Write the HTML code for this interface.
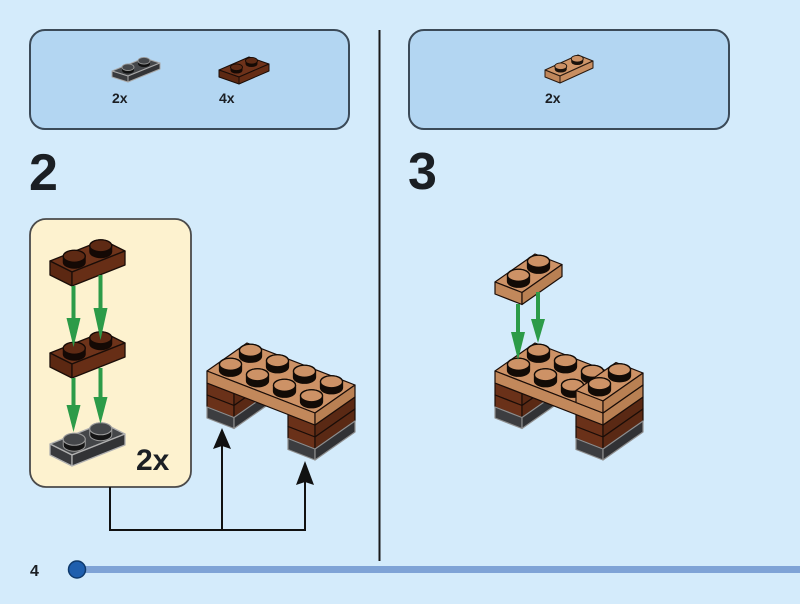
<!DOCTYPE html>
<html><head><meta charset="utf-8"><style>
html,body{margin:0;padding:0;background:#d4ebfb;}
svg{display:block;}
text{font-family:"Liberation Sans",sans-serif;font-weight:bold;fill:#1b1f24;}
</style></head><body>
<svg width="800" height="604" viewBox="0 0 800 604" xmlns="http://www.w3.org/2000/svg">
<rect width="800" height="604" fill="#d4ebfb"/>

<!-- top panels -->
<rect x="30" y="30" width="319" height="99" rx="15" fill="#b3d6f2" stroke="#3b4a58" stroke-width="2"/>
<rect x="409" y="30" width="320" height="99" rx="15" fill="#b3d6f2" stroke="#3b4a58" stroke-width="2"/>

<!-- divider -->
<line x1="379.5" y1="30" x2="379.5" y2="561" stroke="#1a1a1a" stroke-width="2"/>

<!-- step numbers -->
<text x="29" y="190" font-size="52">2</text>
<text x="408" y="189" font-size="52">3</text>

<!-- panel icons -->
<g stroke-linejoin="round">
  <!-- gray icon -->
  <polygon points="112,71 128,76 160,63 144,58" fill="#45474a" stroke="#a8a8a8" stroke-width="1"/>
  <polygon points="112,71 128,76 128,82 112,77" fill="#3a3b3e" stroke="#a8a8a8" stroke-width="1"/>
  <polygon points="128,76 160,63 160,69 128,82" fill="#333437" stroke="#a8a8a8" stroke-width="1"/>
  <path d="M138,63.75 A6,3.3 0 0 0 150,63.75 V60.75 A6,3.3 0 0 0 138,60.75 Z" fill="#111"/>
  <ellipse cx="144" cy="60.75" rx="6" ry="3.3" fill="#45474a" stroke="#999" stroke-width="0.9"/>
  <path d="M122,70.25 A6,3.3 0 0 0 134,70.25 V67.25 A6,3.3 0 0 0 122,67.25 Z" fill="#111"/>
  <ellipse cx="128" cy="67.25" rx="6" ry="3.3" fill="#45474a" stroke="#999" stroke-width="0.9"/>
  <!-- brown icon -->
  <polygon points="219,70 239,77 269,64 249,57" fill="#6e321a" stroke="#1a0d08" stroke-width="1"/>
  <polygon points="219,70 239,77 239,84 219,77" fill="#5c2812" stroke="#1a0d08" stroke-width="1"/>
  <polygon points="239,77 269,64 269,71 239,84" fill="#662d15" stroke="#1a0d08" stroke-width="1"/>
  <path d="M245.5,63.75 A6,3.3 0 0 0 257.5,63.75 V60.75 A6,3.3 0 0 0 245.5,60.75 Z" fill="#150a05"/>
  <ellipse cx="251.5" cy="60.75" rx="6" ry="3.3" fill="#5e2a14" stroke="#150a05" stroke-width="0.9"/>
  <path d="M230.5,70.25 A6,3.3 0 0 0 242.5,70.25 V67.25 A6,3.3 0 0 0 230.5,67.25 Z" fill="#150a05"/>
  <ellipse cx="236.5" cy="67.25" rx="6" ry="3.3" fill="#5e2a14" stroke="#150a05" stroke-width="0.9"/>
  <!-- tan icon -->
  <polygon points="545,70 560,76 593,61 578,55" fill="#d09669" stroke="#2a1a10" stroke-width="1"/>
  <polygon points="545,70 560,76 560,83 545,77" fill="#c0875b" stroke="#2a1a10" stroke-width="1"/>
  <polygon points="560,76 593,61 593,68 560,83" fill="#c88e61" stroke="#2a1a10" stroke-width="1"/>
  <path d="M571.25,61.75 A6,3.3 0 0 0 583.25,61.75 V58.75 A6,3.3 0 0 0 571.25,58.75 Z" fill="#1a120c"/>
  <ellipse cx="577.25" cy="58.75" rx="6" ry="3.3" fill="#cc9165" stroke="#1a120c" stroke-width="0.9"/>
  <path d="M554.75,69.25 A6,3.3 0 0 0 566.75,69.25 V66.25 A6,3.3 0 0 0 554.75,66.25 Z" fill="#1a120c"/>
  <ellipse cx="560.75" cy="66.25" rx="6" ry="3.3" fill="#cc9165" stroke="#1a120c" stroke-width="0.9"/>
</g>
<text x="112" y="103" font-size="14">2x</text>
<text x="219" y="103" font-size="14">4x</text>
<text x="545" y="103" font-size="14">2x</text>

<!-- callout -->
<rect x="30" y="219" width="161" height="268" rx="16" fill="#fdf2cf" stroke="#4a4a4a" stroke-width="1.8"/>

<g stroke-linejoin="round">
  <!-- top brown plate -->
  <polygon points="50,261 72,272 125,251 103,240" fill="#6e331a" stroke="#1a0d08" stroke-width="1.3"/>
  <polygon points="50,261 72,272 72,286 50,275" fill="#5c2812" stroke="#1a0d08" stroke-width="1.3"/>
  <polygon points="72,272 125,251 125,265 72,286" fill="#672e16" stroke="#1a0d08" stroke-width="1.3"/>
  <path d="M89.75,251.75 A11,6 0 0 0 111.75,251.75 V245.75 A11,6 0 0 0 89.75,245.75 Z" fill="#140905" stroke="#140905"/>
  <ellipse cx="100.75" cy="245.75" rx="11" ry="6" fill="#5e2a14" stroke="#140905" stroke-width="1.3"/>
  <path d="M63.25,262.25 A11,6 0 0 0 85.25,262.25 V256.25 A11,6 0 0 0 63.25,256.25 Z" fill="#140905" stroke="#140905"/>
  <ellipse cx="74.25" cy="256.25" rx="11" ry="6" fill="#5e2a14" stroke="#140905" stroke-width="1.3"/>

  <!-- middle brown plate -->
  <polygon points="50,353 72,364 125,343 103,332" fill="#6e331a" stroke="#1a0d08" stroke-width="1.3"/>
  <polygon points="50,353 72,364 72,378 50,367" fill="#5c2812" stroke="#1a0d08" stroke-width="1.3"/>
  <polygon points="72,364 125,343 125,357 72,378" fill="#672e16" stroke="#1a0d08" stroke-width="1.3"/>
  <path d="M89.75,343.75 A11,6 0 0 0 111.75,343.75 V337.75 A11,6 0 0 0 89.75,337.75 Z" fill="#140905" stroke="#140905"/>
  <ellipse cx="100.75" cy="337.75" rx="11" ry="6" fill="#5e2a14" stroke="#140905" stroke-width="1.3"/>
  <path d="M63.25,354.25 A11,6 0 0 0 85.25,354.25 V348.25 A11,6 0 0 0 63.25,348.25 Z" fill="#140905" stroke="#140905"/>
  <ellipse cx="74.25" cy="348.25" rx="11" ry="6" fill="#5e2a14" stroke="#140905" stroke-width="1.3"/>

  <!-- gray plate -->
  <polygon points="50,444 72,455 125,434 103,423" fill="#444649" stroke="#b0b0b0" stroke-width="1.3"/>
  <polygon points="50,444 72,455 72,466 50,455" fill="#393a3d" stroke="#b0b0b0" stroke-width="1.3"/>
  <polygon points="72,455 125,434 125,445 72,466" fill="#323336" stroke="#b0b0b0" stroke-width="1.3"/>
  <path d="M89.75,434.75 A11,6 0 0 0 111.75,434.75 V428.75 A11,6 0 0 0 89.75,428.75 Z" fill="#151515" stroke="#9a9a9a" stroke-width="1"/>
  <ellipse cx="100.75" cy="428.75" rx="11" ry="6" fill="#444649" stroke="#9a9a9a" stroke-width="1.1"/>
  <path d="M63.25,445.25 A11,6 0 0 0 85.25,445.25 V439.25 A11,6 0 0 0 63.25,439.25 Z" fill="#151515" stroke="#9a9a9a" stroke-width="1"/>
  <ellipse cx="74.25" cy="439.25" rx="11" ry="6" fill="#444649" stroke="#9a9a9a" stroke-width="1.1"/>
</g>

<!-- green arrows callout -->
<g stroke="#2c9b48" stroke-width="4" fill="none">
  <line x1="73.5" y1="286" x2="73.5" y2="322"/>
  <line x1="100.5" y1="275" x2="100.5" y2="312"/>
  <line x1="73.5" y1="378" x2="73.5" y2="410"/>
  <line x1="100.5" y1="368" x2="100.5" y2="400"/>
</g>
<g fill="#2c9b48">
  <polygon points="66.5,318 80.5,318 73.5,347"/>
  <polygon points="93.5,308 107.5,308 100.5,340"/>
  <polygon points="66.5,405 80.5,405 73.5,432"/>
  <polygon points="93.5,397 107.5,397 100.5,424"/>
</g>
<text x="136" y="470" font-size="30">2x</text>

<!-- step 2 assembly -->
<g stroke="#1a0d08" stroke-width="1.2" stroke-linejoin="round">
  <!-- left leg -->
  <polygon points="207,383 234,393.5 234,405.5 207,395" fill="#6a3119"/>
  <polygon points="234,393.5 274,365.5 274,377.5 234,405.5" fill="#5a2914"/>
  <polygon points="207,395 234,405.5 234,417.5 207,407" fill="#6a3119"/>
  <polygon points="234,405.5 274,377.5 274,389.5 234,417.5" fill="#5a2914"/>
  <polygon points="207,407 234,417.5 234,428.5 207,418" fill="#3c3d40" stroke="#8e8e8e"/>
  <polygon points="234,417.5 274,389.5 274,400.5 234,428.5" fill="#313235" stroke="#8e8e8e"/>
  <!-- right leg -->
  <polygon points="288,414.5 315,425 315,437 288,426.5" fill="#6a3119"/>
  <polygon points="315,425 355,397 355,409 315,437" fill="#5a2914"/>
  <polygon points="288,426.5 315,437 315,449 288,438.5" fill="#6a3119"/>
  <polygon points="315,437 355,409 355,421 315,449" fill="#5a2914"/>
  <polygon points="288,438.5 315,449 315,460 288,449.5" fill="#3c3d40" stroke="#8e8e8e"/>
  <polygon points="315,449 355,421 355,432 315,460" fill="#313235" stroke="#8e8e8e"/>
  <!-- tan plate -->
  <polygon points="207,371 315,413 355,385 247,343" fill="#cd9266"/>
  <polygon points="207,371 315,413 315,425 207,383" fill="#c2885b"/>
  <polygon points="315,413 355,385 355,397 315,425" fill="#b98053"/>
</g>
<g stroke="#120b06" stroke-width="1.3">
  <path d="M239.5,356.25 A11,6 0 0 0 261.5,356.25 V350.25 A11,6 0 0 0 239.5,350.25 Z" fill="#120b06"/>
  <ellipse cx="250.5" cy="350.25" rx="11" ry="6" fill="#cd9266"/>
  <path d="M266.5,366.75 A11,6 0 0 0 288.5,366.75 V360.75 A11,6 0 0 0 266.5,360.75 Z" fill="#120b06"/>
  <ellipse cx="277.5" cy="360.75" rx="11" ry="6" fill="#cd9266"/>
  <path d="M293.5,377.25 A11,6 0 0 0 315.5,377.25 V371.25 A11,6 0 0 0 293.5,371.25 Z" fill="#120b06"/>
  <ellipse cx="304.5" cy="371.25" rx="11" ry="6" fill="#cd9266"/>
  <path d="M320.5,387.75 A11,6 0 0 0 342.5,387.75 V381.75 A11,6 0 0 0 320.5,381.75 Z" fill="#120b06"/>
  <ellipse cx="331.5" cy="381.75" rx="11" ry="6" fill="#cd9266"/>
  <path d="M219.5,370.25 A11,6 0 0 0 241.5,370.25 V364.25 A11,6 0 0 0 219.5,364.25 Z" fill="#120b06"/>
  <ellipse cx="230.5" cy="364.25" rx="11" ry="6" fill="#cd9266"/>
  <path d="M246.5,380.75 A11,6 0 0 0 268.5,380.75 V374.75 A11,6 0 0 0 246.5,374.75 Z" fill="#120b06"/>
  <ellipse cx="257.5" cy="374.75" rx="11" ry="6" fill="#cd9266"/>
  <path d="M273.5,391.25 A11,6 0 0 0 295.5,391.25 V385.25 A11,6 0 0 0 273.5,385.25 Z" fill="#120b06"/>
  <ellipse cx="284.5" cy="385.25" rx="11" ry="6" fill="#cd9266"/>
  <path d="M300.5,401.75 A11,6 0 0 0 322.5,401.75 V395.75 A11,6 0 0 0 300.5,395.75 Z" fill="#120b06"/>
  <ellipse cx="311.5" cy="395.75" rx="11" ry="6" fill="#cd9266"/>
</g>

<!-- connector with arrows -->
<polyline points="110,487 110,530 305,530 305,482" fill="none" stroke="#111" stroke-width="2"/>
<line x1="222" y1="530" x2="222" y2="446" stroke="#111" stroke-width="2"/>
<path d="M222,428 L231,449 L222,446 L213,449 Z" fill="#111"/>
<path d="M305,461 L314,485 L305,482 L296,485 Z" fill="#111"/>

<!-- step 3 assembly -->
<g stroke="#1a0d08" stroke-width="1.2" stroke-linejoin="round">
  <!-- left leg -->
  <polygon points="495,383 522,393.5 522,405.5 495,395" fill="#6a3119"/>
  <polygon points="522,393.5 562,365.5 562,377.5 522,405.5" fill="#5a2914"/>
  <polygon points="495,395 522,405.5 522,417.5 495,407" fill="#6a3119"/>
  <polygon points="522,405.5 562,377.5 562,389.5 522,417.5" fill="#5a2914"/>
  <polygon points="495,407 522,417.5 522,428.5 495,418" fill="#3c3d40" stroke="#8e8e8e"/>
  <polygon points="522,417.5 562,389.5 562,400.5 522,428.5" fill="#313235" stroke="#8e8e8e"/>
  <!-- right leg -->
  <polygon points="576,414.5 603,425 603,437 576,426.5" fill="#6a3119"/>
  <polygon points="603,425 643,397 643,409 603,437" fill="#5a2914"/>
  <polygon points="576,426.5 603,437 603,449 576,438.5" fill="#6a3119"/>
  <polygon points="603,437 643,409 643,421 603,449" fill="#5a2914"/>
  <polygon points="576,438.5 603,449 603,460 576,449.5" fill="#3c3d40" stroke="#8e8e8e"/>
  <polygon points="603,449 643,421 643,432 603,460" fill="#313235" stroke="#8e8e8e"/>
  <!-- tan plate -->
  <polygon points="495,371 603,413 643,385 535,343" fill="#cd9266"/>
  <polygon points="495,371 603,413 603,425 495,383" fill="#c2885b"/>
  <polygon points="603,413 643,385 643,397 603,425" fill="#b98053"/>
</g>
<g stroke="#120b06" stroke-width="1.3">
  <path d="M527.5,356.25 A11,6 0 0 0 549.5,356.25 V350.25 A11,6 0 0 0 527.5,350.25 Z" fill="#120b06"/>
  <ellipse cx="538.5" cy="350.25" rx="11" ry="6" fill="#cd9266"/>
  <path d="M554.5,366.75 A11,6 0 0 0 576.5,366.75 V360.75 A11,6 0 0 0 554.5,360.75 Z" fill="#120b06"/>
  <ellipse cx="565.5" cy="360.75" rx="11" ry="6" fill="#cd9266"/>
  <path d="M581.5,377.25 A11,6 0 0 0 603.5,377.25 V371.25 A11,6 0 0 0 581.5,371.25 Z" fill="#120b06"/>
  <ellipse cx="592.5" cy="371.25" rx="11" ry="6" fill="#cd9266"/>
  <path d="M507.5,370.25 A11,6 0 0 0 529.5,370.25 V364.25 A11,6 0 0 0 507.5,364.25 Z" fill="#120b06"/>
  <ellipse cx="518.5" cy="364.25" rx="11" ry="6" fill="#cd9266"/>
  <path d="M534.5,380.75 A11,6 0 0 0 556.5,380.75 V374.75 A11,6 0 0 0 534.5,374.75 Z" fill="#120b06"/>
  <ellipse cx="545.5" cy="374.75" rx="11" ry="6" fill="#cd9266"/>
  <path d="M561.5,391.25 A11,6 0 0 0 583.5,391.25 V385.25 A11,6 0 0 0 561.5,385.25 Z" fill="#120b06"/>
  <ellipse cx="572.5" cy="385.25" rx="11" ry="6" fill="#cd9266"/>
</g>
<!-- extra tan plate on top -->
<g stroke="#1a0d08" stroke-width="1.2" stroke-linejoin="round">
  <polygon points="576,390.5 603,401 643,373 616,362.5" fill="#cd9266"/>
  <polygon points="576,390.5 603,401 603,413 576,402.5" fill="#c2885b"/>
  <polygon points="603,401 643,373 643,385 603,413" fill="#b98053"/>
</g>
<g stroke="#120b06" stroke-width="1.3">
  <path d="M608.5,375.75 A11,6 0 0 0 630.5,375.75 V369.75 A11,6 0 0 0 608.5,369.75 Z" fill="#120b06"/>
  <ellipse cx="619.5" cy="369.75" rx="11" ry="6" fill="#cd9266"/>
  <path d="M588.5,389.75 A11,6 0 0 0 610.5,389.75 V383.75 A11,6 0 0 0 588.5,383.75 Z" fill="#120b06"/>
  <ellipse cx="599.5" cy="383.75" rx="11" ry="6" fill="#cd9266"/>
</g>

<!-- floating tan plate -->
<g stroke="#1a0d08" stroke-width="1.2" stroke-linejoin="round">
  <polygon points="495,282 522,292.5 562,264.5 535,254" fill="#cd9266"/>
  <polygon points="495,282 522,292.5 522,304.5 495,294" fill="#c2885b"/>
  <polygon points="522,292.5 562,264.5 562,276.5 522,304.5" fill="#b98053"/>
</g>
<g stroke="#120b06" stroke-width="1.3">
  <path d="M527.5,267.25 A11,6 0 0 0 549.5,267.25 V261.25 A11,6 0 0 0 527.5,261.25 Z" fill="#120b06"/>
  <ellipse cx="538.5" cy="261.25" rx="11" ry="6" fill="#cd9266"/>
  <path d="M507.5,281.25 A11,6 0 0 0 529.5,281.25 V275.25 A11,6 0 0 0 507.5,275.25 Z" fill="#120b06"/>
  <ellipse cx="518.5" cy="275.25" rx="11" ry="6" fill="#cd9266"/>
</g>
<!-- green arrows step 3 -->
<g stroke="#2c9b48" stroke-width="4">
  <line x1="518" y1="304" x2="518" y2="336"/>
  <line x1="538" y1="292" x2="538" y2="323"/>
</g>
<g fill="#2c9b48">
  <polygon points="511,332 525,332 518,360"/>
  <polygon points="531,319 545,319 538,343"/>
</g>

<!-- bottom bar -->
<rect x="77" y="566" width="723" height="7" fill="#7fa3d6"/>
<circle cx="77" cy="569.5" r="8.5" fill="#1f5fae" stroke="#0f3a6c" stroke-width="1.5"/>
<text x="30" y="576" font-size="16">4</text>
</svg>
</body></html>
